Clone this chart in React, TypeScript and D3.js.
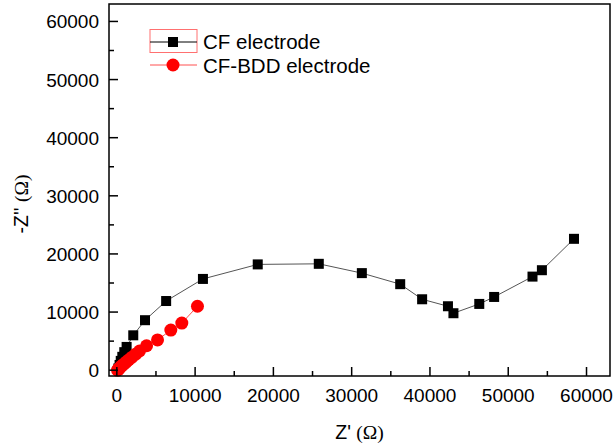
import React from 'react';
import * as d3 from 'd3';

// CF electrode (black squares)
const cfZre = [200, 350, 500, 700, 950, 1250, 2100, 3600, 6300, 11000, 18000, 25800, 31300, 36200, 39000, 42300, 43000, 46300, 48200, 53100, 54300, 58400];
const cfZim = [300, 900, 1600, 2300, 3100, 4000, 6000, 8600, 11900, 15700, 18200, 18300, 16700, 14800, 12200, 11000, 9800, 11400, 12600, 16100, 17200, 22600];

// CF-BDD electrode (red circles)
const bddZre = [100, 150, 250, 400, 600, 850, 1150, 1500, 1900, 2400, 2900, 3800, 5200, 6900, 8300, 10300];
const bddZim = [0, 100, 250, 450, 700, 1000, 1350, 1750, 2200, 2750, 3300, 4200, 5200, 6900, 8100, 11000];

const xTicks = [0, 10000, 20000, 30000, 40000, 50000, 60000];
const yTicks = [0, 10000, 20000, 30000, 40000, 50000, 60000];
const minorTicks = [5000, 15000, 25000, 35000, 45000, 55000];

const W = 613;
const H = 444;
const left = 109, right = 610, top = 4, bottom = 376;

const App = () => {
    const x = d3.scaleLinear().domain([-1000, 63000]).range([left, right]);
    const y = d3.scaleLinear().domain([-1000, 63000]).range([bottom, top]);

    const cf = cfZre.map((v, i) => [v, cfZim[i]] as [number, number]);
    const bdd = bddZre.map((v, i) => [v, bddZim[i]] as [number, number]);
    const line = d3.line<[number, number]>().x(d => x(d[0])).y(d => y(d[1]));

    const font = 'Liberation Sans, Arial, sans-serif';
    const sq = 10;

    return (
        <svg width={W} height={H} style={{ position: 'absolute', left: 0, top: 0 }} fontFamily={font}>
            <rect width={W} height={H} fill="#fff" />
            {/* data */}
            <path d={line(cf) || ''} fill="none" stroke="#555" strokeWidth={1} />
            <path d={line(bdd) || ''} fill="none" stroke="#ff5050" strokeWidth={1} />
            {cf.map((d, i) => (
                <rect key={'c' + i} x={x(d[0]) - sq / 2} y={y(d[1]) - sq / 2} width={sq} height={sq} fill="#000" />
            ))}
            {bdd.map((d, i) => (
                <circle key={'b' + i} cx={x(d[0])} cy={y(d[1])} r={6.5} fill="#ff0000" />
            ))}
            {/* frame */}
            <rect x={left} y={top} width={right - left} height={bottom - top} fill="none" stroke="#000" strokeWidth={1.5} />
            {/* x ticks */}
            {xTicks.map(t => (
                <g key={'x' + t}>
                    <line x1={x(t)} x2={x(t)} y1={bottom} y2={bottom - 9} stroke="#000" strokeWidth={1.5} />
                    <text x={x(t)} y={401.5} textAnchor="middle" fontSize={19}>{t}</text>
                </g>
            ))}
            {minorTicks.map(t => (
                <line key={'xm' + t} x1={x(t)} x2={x(t)} y1={bottom} y2={bottom - 5} stroke="#000" strokeWidth={1.5} />
            ))}
            {/* y ticks */}
            {yTicks.map(t => (
                <g key={'y' + t}>
                    <line x1={left} x2={left + 9} y1={y(t)} y2={y(t)} stroke="#000" strokeWidth={1.5} />
                    <text x={99} y={y(t) + 7} textAnchor="end" fontSize={19}>{t}</text>
                </g>
            ))}
            {minorTicks.map(t => (
                <line key={'ym' + t} x1={left} x2={left + 5} y1={y(t)} y2={y(t)} stroke="#000" strokeWidth={1.5} />
            ))}
            {/* axis titles */}
            <text x={(left + right) / 2} y={439} textAnchor="middle" fontSize={19.5}>
                Z' <tspan fontFamily="Liberation Serif, Times New Roman, serif">(Ω)</tspan>
            </text>
            <text transform="translate(28,204) rotate(-90)" textAnchor="middle" fontSize={19.5}>
                -Z'' <tspan fontFamily="Liberation Serif, Times New Roman, serif">(Ω)</tspan>
            </text>
            {/* legend */}
            <rect x={150} y={29.5} width={47} height={23} fill="none" stroke="#ff7070" strokeWidth={1} />
            <line x1={150} x2={197} y1={42} y2={42} stroke="#000" strokeWidth={1} />
            <rect x={173 - sq / 2} y={42 - sq / 2} width={sq} height={sq} fill="#000" />
            <text x={203} y={48.5} fontSize={20.5}>CF electrode</text>
            <line x1={150} x2={197} y1={65} y2={65} stroke="#ff5050" strokeWidth={1} />
            <circle cx={173} cy={65} r={6.5} fill="#ff0000" />
            <text x={203} y={72.5} fontSize={20.5}>CF-BDD electrode</text>
        </svg>
    );
};

export default App;
